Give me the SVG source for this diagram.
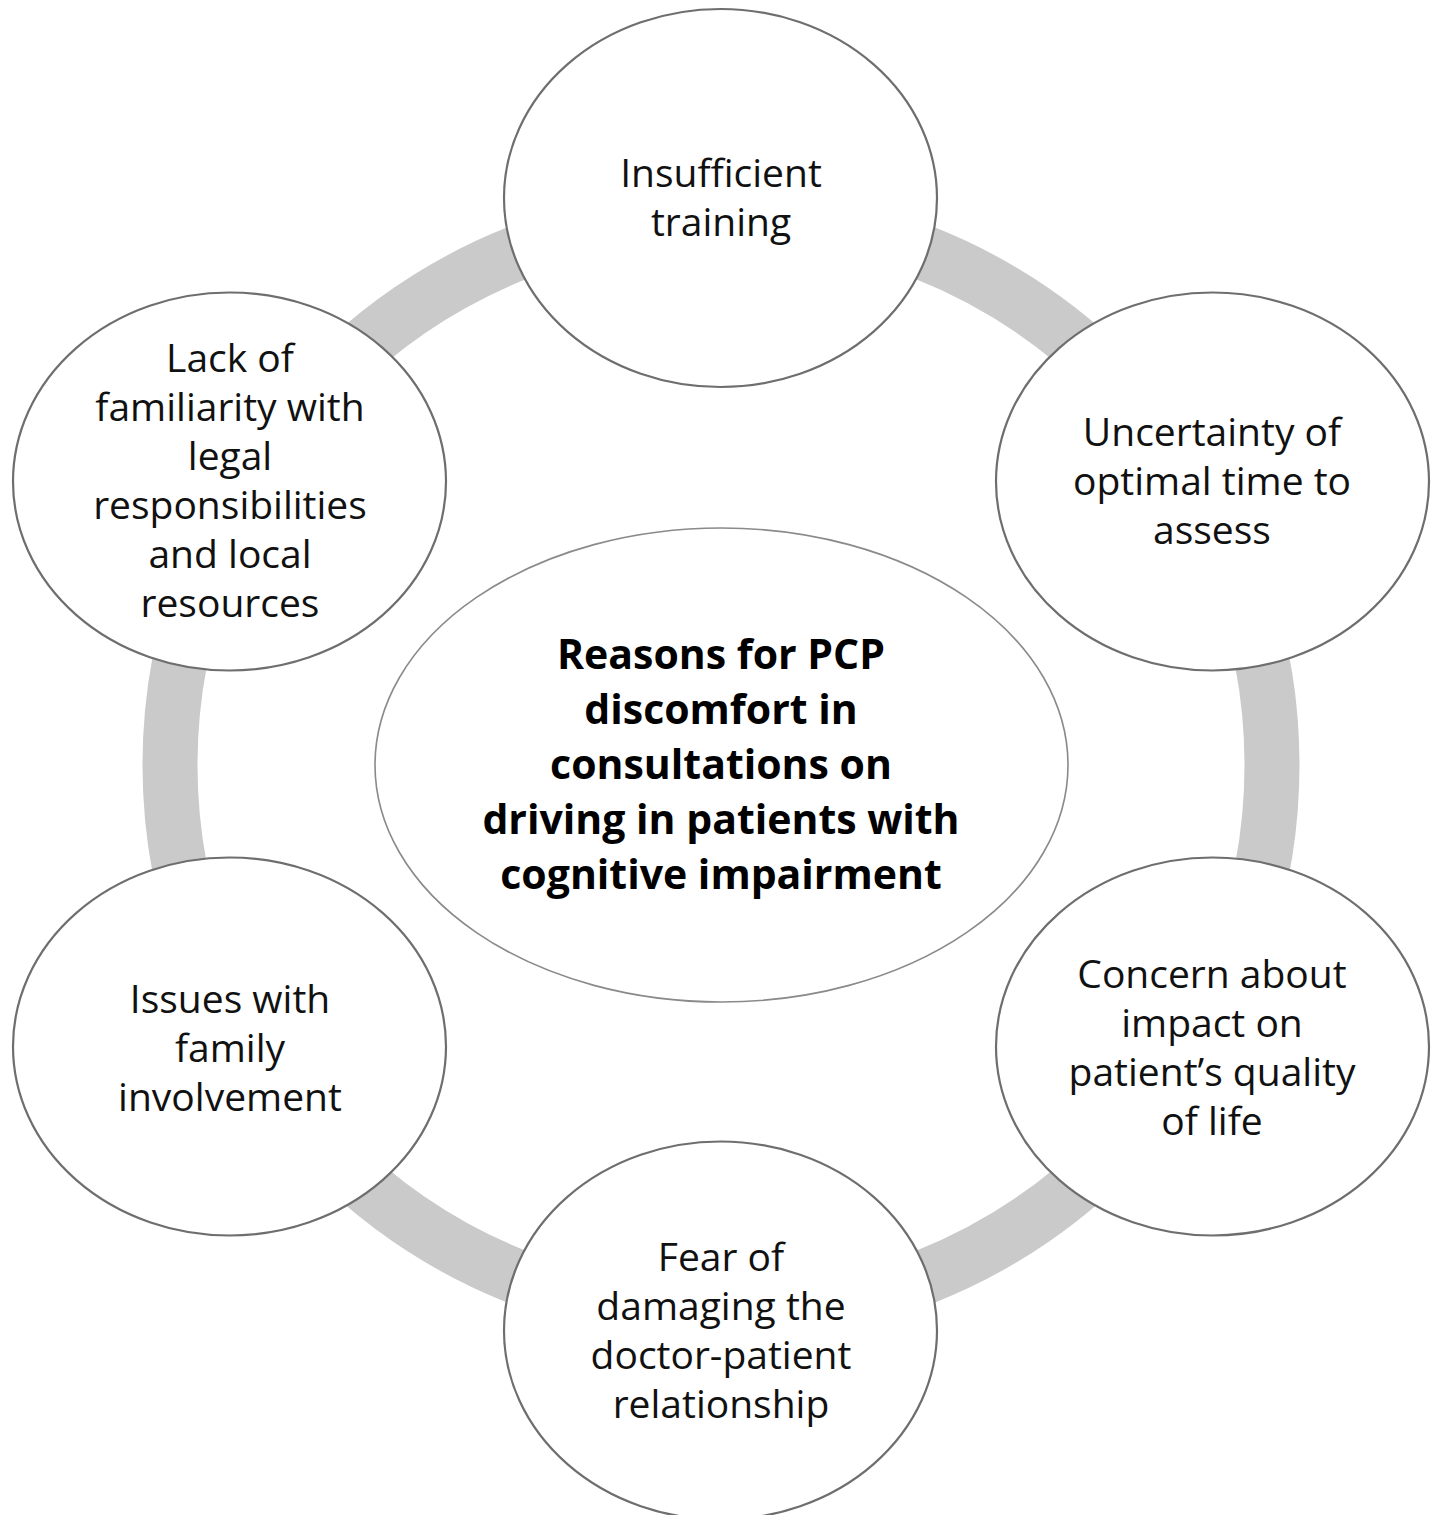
<svg xmlns="http://www.w3.org/2000/svg" width="1437" height="1515" viewBox="0 0 1437 1515">
<style>
.node ellipse{fill:#ffffff;stroke:#6e6e6e;stroke-width:2.2}
.center ellipse{fill:#ffffff;stroke:#8a8a8a;stroke-width:1.6}
.lbl{font-family:"Open Sans","Liberation Sans",sans-serif;font-size:39px;fill:#111;text-anchor:middle}
.title{font-family:"Open Sans","Liberation Sans",sans-serif;font-size:41px;font-weight:bold;fill:#000;text-anchor:middle}
</style>
<rect width="1437" height="1515" fill="#ffffff"/>
<g id="connectors">
<circle cx="721" cy="765" r="551" fill="none" stroke="#cacaca" stroke-width="55"/>
</g>
<g id="center" class="center">
<ellipse cx="721.5" cy="765" rx="346.5" ry="237"/>
<text class="title"><tspan x="721" y="669">Reasons for PCP</tspan><tspan x="721" y="724">discomfort in</tspan><tspan x="721" y="779">consultations on</tspan><tspan x="721" y="834">driving in patients with</tspan><tspan x="721" y="889">cognitive impairment</tspan></text>
</g>
<g id="n1" class="node">
<ellipse cx="720.5" cy="198" rx="216.5" ry="189"/>
<text class="lbl"><tspan x="721" y="187">Insufficient</tspan><tspan x="721" y="236">training</tspan></text>
</g>
<g id="n2" class="node">
<ellipse cx="1212.5" cy="481.5" rx="216.5" ry="189"/>
<text class="lbl"><tspan x="1212" y="446">Uncertainty of</tspan><tspan x="1212" y="495">optimal time to</tspan><tspan x="1212" y="544">assess</tspan></text>
</g>
<g id="n3" class="node">
<ellipse cx="1212.5" cy="1046.5" rx="216.5" ry="189"/>
<text class="lbl"><tspan x="1212" y="988">Concern about</tspan><tspan x="1212" y="1037">impact on</tspan><tspan x="1212" y="1086">patient’s quality</tspan><tspan x="1212" y="1135">of life</tspan></text>
</g>
<g id="n4" class="node">
<ellipse cx="720.5" cy="1330.5" rx="216.5" ry="189"/>
<text class="lbl"><tspan x="721" y="1271">Fear of</tspan><tspan x="721" y="1320">damaging the</tspan><tspan x="721" y="1369">doctor-patient</tspan><tspan x="721" y="1418">relationship</tspan></text>
</g>
<g id="n5" class="node">
<ellipse cx="229.5" cy="1046.5" rx="216.5" ry="189"/>
<text class="lbl"><tspan x="230" y="1013">Issues with</tspan><tspan x="230" y="1062">family</tspan><tspan x="230" y="1111">involvement</tspan></text>
</g>
<g id="n6" class="node">
<ellipse cx="229.5" cy="481.5" rx="216.5" ry="189"/>
<text class="lbl"><tspan x="230" y="372">Lack of</tspan><tspan x="230" y="421">familiarity with</tspan><tspan x="230" y="470">legal</tspan><tspan x="230" y="519">responsibilities</tspan><tspan x="230" y="568">and local</tspan><tspan x="230" y="617">resources</tspan></text>
</g>
</svg>
